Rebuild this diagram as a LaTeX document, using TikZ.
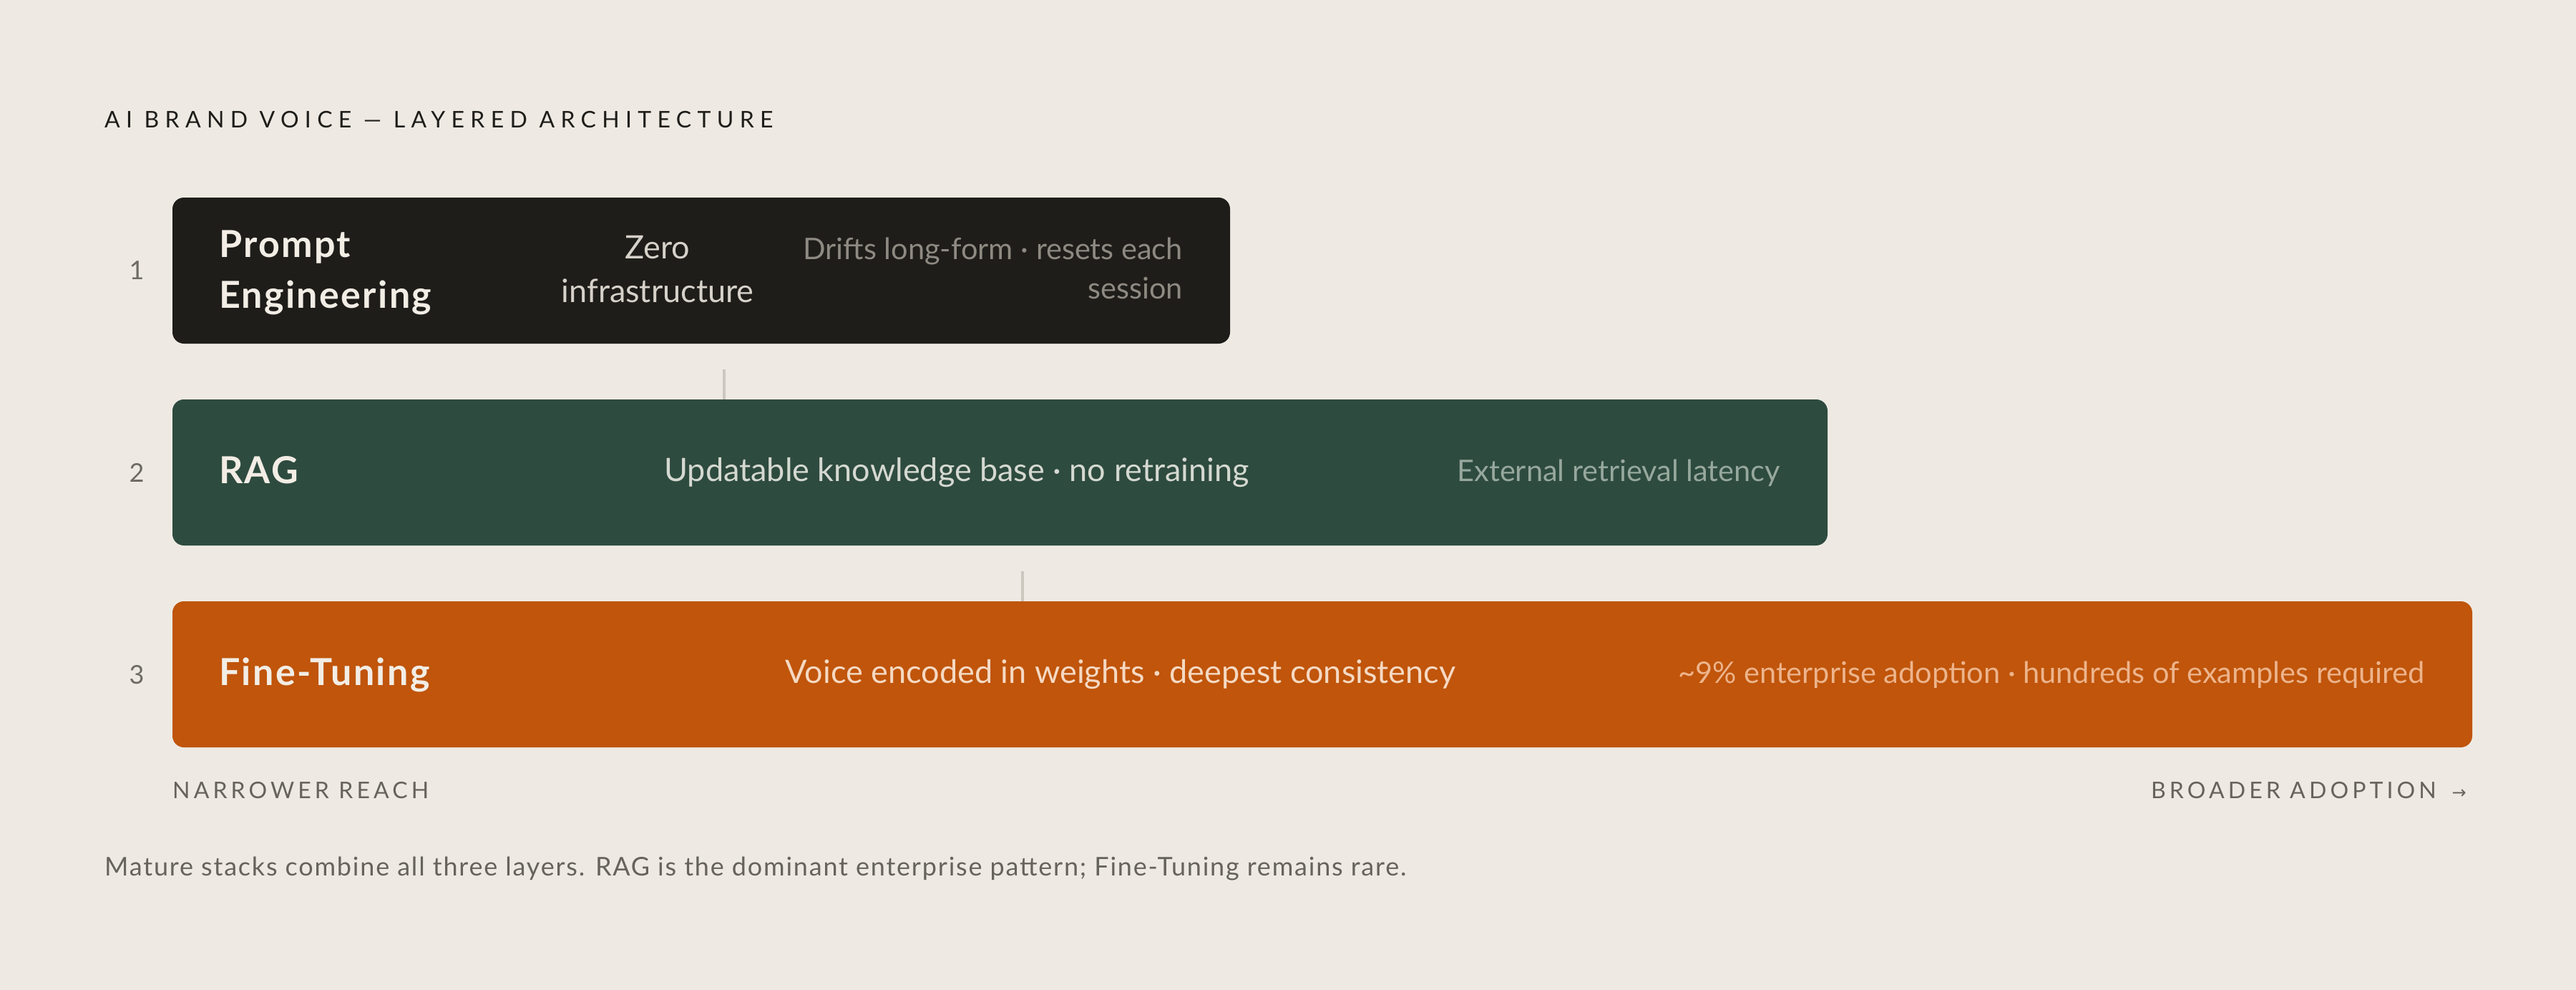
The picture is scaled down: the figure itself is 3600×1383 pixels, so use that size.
\documentclass[tikz,border=0pt]{standalone}
\usepackage{fontspec}
\setmainfont{Lato}
\newfontfamily\trk[LetterSpace=16]{Lato}
\newfontfamily\trkh[LetterSpace=26]{Lato}
\newfontfamily\trks[LetterSpace=5]{Lato}
\newfontfamily\boldt[LetterSpace=4.5]{Lato Bold}
\newfontfamily\dejavu{DejaVu Sans}
\newcommand\fsz[1]{\fontsize{#1}{#1}\selectfont}
\definecolor{bg}{HTML}{EEEAE3}
\definecolor{ink}{HTML}{1E1D1A}
\definecolor{boxA}{HTML}{1E1D1A}
\definecolor{boxB}{HTML}{2E4B3F}
\definecolor{boxC}{HTML}{C0550B}
\definecolor{ttlcol}{HTML}{F2EDE5}
\definecolor{midA}{HTML}{D6D1C9}
\definecolor{rgtA}{HTML}{8E8A82}
\definecolor{midB}{HTML}{D5D9D1}
\definecolor{rgtB}{HTML}{97A89D}
\definecolor{midC}{HTML}{F5D9C3}
\definecolor{rgtC}{HTML}{EDB48C}
\definecolor{numcol}{HTML}{6E6B65}
\definecolor{capcol}{HTML}{66625C}
\definecolor{linkcol}{HTML}{CCC7BF}
\begin{document}
\begin{tikzpicture}[x=1pt,y=-1pt,
  layer/.style={rounded corners=16pt, inner sep=0pt, outer sep=0pt, anchor=north west, minimum height=204pt},
  ttl/.style={font=\boldt\fsz{52}, text=ttlcol, inner sep=0pt, anchor=base west},
  mid/.style={font=\fsz{45}, inner sep=0pt, anchor=base},
  rgt/.style={font=\fsz{41.5}, inner sep=0pt, anchor=base east},
  num/.style={font=\fsz{36}, text=numcol, inner sep=0pt, anchor=base},
  axis/.style={font=\trk\fsz{32}, text=capcol, inner sep=0pt},
  link/.style={draw=linkcol, line width=3.5pt}
]
\fill[bg] (0,0) rectangle (3600,1383);
\useasboundingbox (0,0) rectangle (3600,1383);

% header
\node[font=\trkh\fsz{32}, text=ink, inner sep=0pt, anchor=base west] (hdr) at (146,179) {AI BRAND VOICE — LAYERED ARCHITECTURE};

% layers
\node[layer, fill=boxA, minimum width=1478pt] (b1) at (241,276) {};
\node[layer, fill=boxB, minimum width=2313pt] (b2) at (241,558) {};
\node[layer, fill=boxC, minimum width=3214pt] (b3) at (241,840) {};

% numbers
\node[num] (n1) at (191,390) {1};
\node[num] (n2) at (191,673) {2};
\node[num] (n3) at (191,955) {3};

% layer 1 text
\node[ttl] (t1a) at (306,359) {Prompt};
\node[ttl] (t1b) at (306,430) {Engineering};
\node[mid, text=midA] (m1a) at (919,361) {Zero};
\node[mid, text=midA] (m1b) at (919,422) {infrastructure};
\node[rgt, text=rgtA] (r1a) at (1653,362) {Drifts long-form · resets each};
\node[rgt, text=rgtA] (r1b) at (1653,417) {session};

% layer 2 text
\node[ttl] (t2) at (306,675) {RAG};
\node[mid, text=midB] (m2) at (1337,672) {Updatable knowledge base · no retraining};
\node[rgt, text=rgtB] (r2) at (2488,672) {External retrieval latency};

% layer 3 text
\node[ttl] (t3) at (306,957) {Fine-Tuning};
\node[mid, text=midC] (m3) at (1566,954) {Voice encoded in weights · deepest consistency};
\node[rgt, text=rgtC] (r3) at (3389,954) {\textasciitilde9\% enterprise adoption · hundreds of examples required};

% connectors
\coordinate (c1) at (1012,516);
\coordinate (c2) at (1429,798);
\draw[link] (c1) -- (c1 |- b2.north);
\draw[link] (c2) -- (c2 |- b3.north);

% axis labels
\node[axis, anchor=base west] (ax1) at (241,1115) {NARROWER REACH};
\node[axis, anchor=base east] (ax2) at (3447,1115) {BROADER ADOPTION\hspace{22pt}{\dejavu\fsz{24}→}};

% footer
\node[font=\trks\fsz{36}, text=capcol, inner sep=0pt, anchor=base west] (ftr) at (146,1223) {Mature stacks combine all three layers. RAG is the dominant enterprise pattern; Fine-Tuning remains rare.};
\end{tikzpicture}
\end{document}
